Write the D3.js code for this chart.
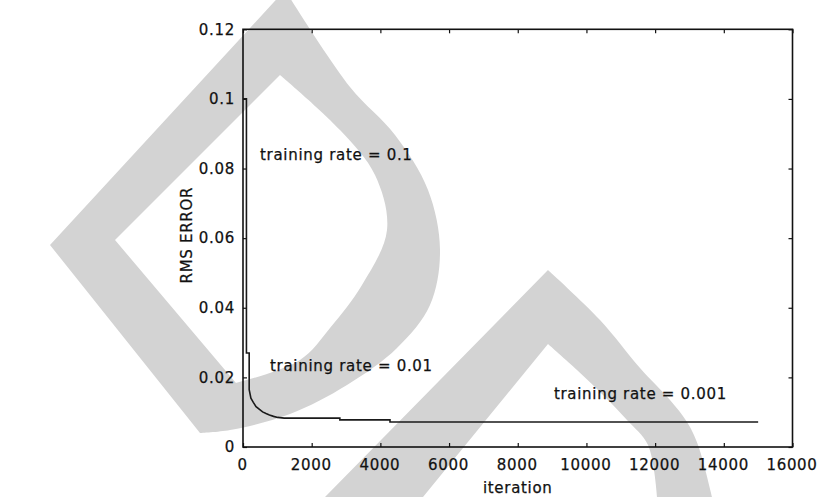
<!DOCTYPE html>
<html><head><meta charset="utf-8">
<script src="https://cdn.jsdelivr.net/npm/d3@7"></script>
<style>
body{margin:0;background:#fff;}
svg{display:block;}
text{font-family:"DejaVu Sans","Liberation Sans",sans-serif;}
</style>
</head><body>
<svg id="chart" width="822" height="497"></svg>
<script>
// ---- data ----
const iterations = [0, 100, 100, 180, 180, 230, 300, 380, 480, 570, 670, 770, 890, 1010, 1200, 2820, 2820, 4280, 4280, 15000];
const rmsError   = [0.100, 0.100, 0.027, 0.027, 0.0165, 0.0140, 0.0128, 0.0116, 0.0108, 0.0101, 0.0096, 0.0092, 0.0088, 0.0085, 0.0083, 0.0083, 0.0078, 0.0078, 0.0072, 0.0072];
const xTicks = [0, 2000, 4000, 6000, 8000, 10000, 12000, 14000, 16000];
const yTicks = [0, 0.02, 0.04, 0.06, 0.08, 0.1, 0.12];
const yTickLabels = ["0", "0.02", "0.04", "0.06", "0.08", "0.1", "0.12"];
const noteTexts = ["training rate = 0.1", "training rate = 0.01", "training rate = 0.001"];
const noteIter  = [495, 786, 9053];
const noteValue = [0.0825, 0.0217, 0.0137];
const xTitle = "iteration";
const yTitle = "RMS ERROR";

// ---- layout ----
const W = 822, H = 497;
const m = {left: 243, top: 29.3, right: 29.5, bottom: 50};
const svg = d3.select("#chart");

// watermark shapes (decorative background)
const wm = svg.append("g").attr("fill", "#d3d3d3").attr("stroke", "none");
const smooth = d3.line().curve(d3.curveCatmullRom.alpha(0.5));
const asL = s => s.replace(/^M/, "L");
const outerA = [[285,-10],[350,87],[395,135],[428,190],[440,250],[430,305],[397,348],[347,385],[290,414],[230,430],[200,433]];
const innerA = [[236,383],[300,360],[330,328],[362,285],[387,230],[375,175],[340,130],[280,75]];
const pathA = smooth(outerA) + "L50,245Z" +
              "M280,75L115,240" + asL(smooth(innerA)) + "Z";
wm.append("path").attr("d", pathA).attr("fill-rule", "evenodd");
const outerB = [[548,270],[600,320],[640,368],[670,400],[687,422],[698,445],[712,497]];
const innerB = [[657,497],[648,445],[627,420],[605,397],[577,370],[548,344]];
const pathB = "M325,497" + asL(smooth(outerB)) + asL(smooth(innerB)) + "L423,497Z";
wm.append("path").attr("d", pathB);

const x = d3.scaleLinear().domain([0, 16000]).range([m.left, W - m.right]);
const y = d3.scaleLinear().domain([0, 0.12]).range([H - m.bottom, m.top]);

const g = svg.append("g");
const fs = "15px";
const ink = "#111";
const styleText = sel => sel.attr("font-size", fs).attr("fill", ink)
  .attr("font-family", "DejaVu Sans").attr("letter-spacing", "0.7px")
  .attr("stroke", ink).attr("stroke-width", 0.25);

// axes with inward ticks
const tk = 4;
const axB = g.append("g").attr("transform", `translate(0,${y(0)})`)
  .call(d3.axisBottom(x).tickValues(xTicks).tickSize(-tk).tickPadding(12).tickFormat(d3.format("d")));
const axL = g.append("g").attr("transform", `translate(${x(0)},0)`)
  .call(d3.axisLeft(y).tickValues(yTicks).tickSize(-tk).tickPadding(8).tickFormat((d,i) => yTickLabels[i]));
const axT = g.append("g").attr("transform", `translate(0,${y(0.12)})`)
  .call(d3.axisTop(x).tickValues(xTicks).tickSize(-tk).tickFormat(""));
const axR = g.append("g").attr("transform", `translate(${x(16000)},0)`)
  .call(d3.axisRight(y).tickValues(yTicks).tickSize(-tk).tickFormat(""));
[axB, axL, axT, axR].forEach(a => {
  a.select(".domain").remove();
  a.selectAll(".tick line").attr("stroke", ink).attr("stroke-width", 1.2);
  styleText(a.selectAll("text"));
});
axB.selectAll("text").attr("dx", "-1");

// frame
g.append("rect").attr("x", x(0)).attr("y", y(0.12))
  .attr("width", x(16000) - x(0)).attr("height", y(0) - y(0.12))
  .attr("fill", "none").attr("stroke", ink).attr("stroke-width", 1.6);

// curve
const pts = iterations.map((d, i) => [d, rmsError[i]]);
g.append("path").datum(pts)
  .attr("d", d3.line().x(d => x(d[0])).y(d => y(d[1])))
  .attr("fill", "none").attr("stroke", "#1a1a1a").attr("stroke-width", 1.6);

// annotations
styleText(g.selectAll("text.note").data(noteTexts).join("text").attr("class", "note")
  .attr("x", (d, i) => x(noteIter[i])).attr("y", (d, i) => y(noteValue[i]))
  .text(d => d));

// axis titles
styleText(g.append("text").attr("x", (x(0) + x(16000)) / 2).attr("y", 493)
  .attr("text-anchor", "middle").text(xTitle));
styleText(g.append("text").attr("transform", `translate(192,${(y(0) + y(0.12)) / 2 - 3}) rotate(-90)`)
  .attr("text-anchor", "middle").text(yTitle));
</script>
</body></html>
